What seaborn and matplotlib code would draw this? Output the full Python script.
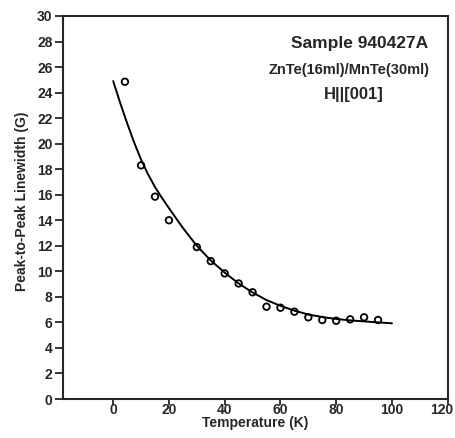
import seaborn as sns
import matplotlib.pyplot as plt
import matplotlib.transforms as mtransforms
import pandas as pd

# measured linewidth points
temp_pts = [4.2, 10, 15, 20, 30, 35, 40, 45, 50, 55, 60, 65, 70, 75, 80, 85, 90, 95]
width_pts = [24.85, 18.3, 15.85, 14.0, 11.9, 10.8, 9.84, 9.05, 8.36, 7.23, 7.15, 6.84,
             6.40, 6.19, 6.13, 6.24, 6.40, 6.19]

# fitted curve
temp_fit = [0, 2.5, 5, 7.5, 10, 12.5, 15, 17.5, 20, 25, 30, 35, 40, 45, 50, 55, 60, 65,
            70, 75, 80, 85, 90, 95, 100]
width_fit = [24.9, 23.2, 21.6, 20.1, 18.75, 17.6, 16.6, 15.75, 14.95, 13.4, 12.0, 10.85,
             9.9, 9.05, 8.35, 7.75, 7.3, 6.92, 6.62, 6.42, 6.27, 6.16, 6.08, 6.0, 5.93]

x_ticks = [0, 20, 40, 60, 80, 100, 120]
y_ticks = list(range(0, 31, 2))

df_pts = pd.DataFrame({'T': temp_pts, 'W': width_pts})
df_fit = pd.DataFrame({'T': temp_fit, 'W': width_fit})

sns.set_style('ticks')
plt.rcParams['font.family'] = ['Liberation Sans', 'DejaVu Sans']
plt.rcParams['font.weight'] = 'bold'

fig = plt.figure(figsize=(4.55, 4.38), dpi=100)
ax = fig.add_axes([0.1385, 0.089, 0.8455, 0.8745])

sns.lineplot(data=df_fit, x='T', y='W', color='black', linewidth=1.4, ax=ax)
sns.scatterplot(data=df_pts, x='T', y='W', marker='o', s=22, facecolor='none',
                edgecolor='black', linewidth=1.3, ax=ax, zorder=3)

ax.set_xlim(-18, 120)
ax.set_ylim(0, 30)
ax.set_xticks(x_ticks)
ax.set_yticks(y_ticks)
ax.tick_params(axis='x', direction='out', length=4.5, width=1.3, labelsize=10, pad=-1.5)
ax.tick_params(axis='y', direction='out', length=5.5, width=1.3, labelsize=10, pad=2)
for lab in ax.get_xticklabels() + ax.get_yticklabels():
    lab.set_fontweight('bold')
# keep the last x label inside the canvas
last = ax.get_xticklabels()[-1]
last.set_transform(last.get_transform() +
                   mtransforms.ScaledTranslation(-6 / 100, 0, fig.dpi_scale_trans))
for sp in ax.spines.values():
    sp.set_linewidth(1.5)
    sp.set_visible(True)

ax.set_xlabel('Temperature (K)', fontsize=10, fontweight='bold', labelpad=-1)
ax.set_ylabel('Peak-to-Peak Linewidth (G)', fontsize=10, fontweight='bold', labelpad=3)
ax.yaxis.set_label_coords(-0.088, 0.517)

ax.text(0.772, 0.927, 'Sample 940427A', transform=ax.transAxes, ha='center', va='center',
        fontsize=12.5, fontweight='bold')
ax.text(0.745, 0.859, 'ZnTe(16ml)/MnTe(30ml)', transform=ax.transAxes, ha='center',
        va='center', fontsize=10.5, fontweight='bold')
ax.text(0.756, 0.796, 'H||[001]', transform=ax.transAxes, ha='center', va='center',
        fontsize=12, fontweight='bold')

fig.savefig('out.png', dpi=100)
